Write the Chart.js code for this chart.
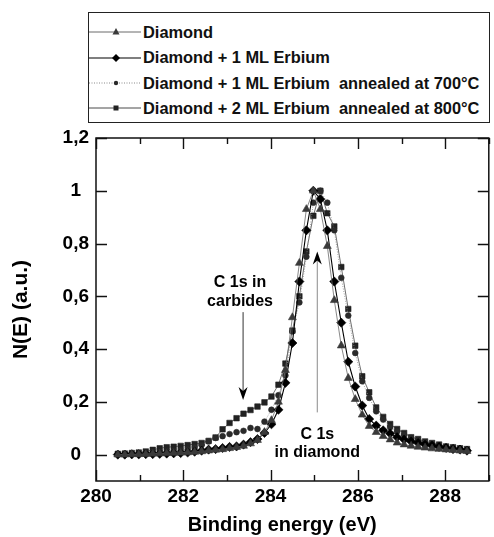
<!DOCTYPE html>
<html>
<head>
<meta charset="utf-8">
<script src="https://cdn.jsdelivr.net/npm/chart.js@4.4.1/dist/chart.umd.min.js"></script>
<style>
  html, body { margin: 0; padding: 0; background: #fff; }
  #wrap { position: relative; width: 494px; height: 537px; overflow: hidden; }
  #legend { position: absolute; left: 88px; top: 12px; width: 402px; height: 111px;
            border: 1.5px solid #222; box-sizing: border-box; background: #fff;
            font-family: "Liberation Sans", Arial, Helvetica, sans-serif; }
  .row { position: absolute; left: 0; height: 20px; display: flex; align-items: center; }
  .row svg { display: block; }
  .row span { margin-left: 2px; font-size: 16.4px; font-weight: bold; color: #111; white-space: pre; }
</style>
</head>
<body>
<div id="wrap">
  <canvas id="c" width="494" height="537"></canvas>
  <div id="legend"></div>
</div>
<script>
// ---- data ----
const energy = [280.50, 280.66, 280.82, 280.98, 281.14, 281.30, 281.46, 281.62, 281.78, 281.94,
  282.10, 282.26, 282.42, 282.58, 282.74, 282.90, 283.06, 283.22, 283.38, 283.54,
  283.70, 283.86, 284.02, 284.18, 284.34, 284.50, 284.66, 284.82, 284.98, 285.14,
  285.30, 285.46, 285.62, 285.78, 285.94, 286.10, 286.26, 286.42, 286.58, 286.74,
  286.90, 287.06, 287.22, 287.38, 287.54, 287.70, 287.86, 288.02, 288.18, 288.34, 288.50];

const diamond = [0.000, 0.000, 0.001, 0.001, 0.002, 0.003, 0.004, 0.005, 0.006, 0.007,
  0.008, 0.010, 0.012, 0.015, 0.018, 0.020, 0.024, 0.028, 0.033, 0.042,
  0.055, 0.085, 0.130, 0.200, 0.320, 0.520, 0.726, 0.930, 1.000, 0.930,
  0.790, 0.585, 0.413, 0.290, 0.210, 0.151, 0.108, 0.085, 0.070, 0.057,
  0.045, 0.038, 0.033, 0.029, 0.026, 0.023, 0.021, 0.019, 0.017, 0.015, 0.013];

const diamond1ML = [0.000, 0.000, 0.001, 0.001, 0.002, 0.002, 0.003, 0.004, 0.005, 0.006,
  0.008, 0.011, 0.015, 0.019, 0.021, 0.025, 0.029, 0.031, 0.038, 0.047,
  0.059, 0.082, 0.115, 0.170, 0.272, 0.423, 0.656, 0.850, 1.000, 0.968,
  0.850, 0.656, 0.500, 0.352, 0.258, 0.186, 0.135, 0.110, 0.092, 0.080,
  0.066, 0.057, 0.050, 0.044, 0.038, 0.034, 0.029, 0.025, 0.021, 0.019, 0.015];

const annealed700 = [0.002, 0.003, 0.004, 0.005, 0.006, 0.008, 0.010, 0.012, 0.014, 0.017,
  0.020, 0.026, 0.036, 0.050, 0.063, 0.070, 0.078, 0.085, 0.090, 0.101,
  0.097, 0.125, 0.170, 0.225, 0.300, 0.467, 0.577, 0.750, 0.955, 1.000,
  0.955, 0.850, 0.670, 0.527, 0.385, 0.278, 0.215, 0.164, 0.133, 0.104,
  0.088, 0.075, 0.063, 0.054, 0.046, 0.040, 0.035, 0.030, 0.026, 0.023, 0.020];

const annealed800 = [0.003, 0.004, 0.006, 0.008, 0.012, 0.018, 0.024, 0.028, 0.030, 0.033,
  0.036, 0.040, 0.044, 0.052, 0.065, 0.096, 0.120, 0.138, 0.155, 0.169,
  0.182, 0.198, 0.220, 0.265, 0.345, 0.470, 0.600, 0.770, 0.905, 1.000,
  0.915, 0.865, 0.711, 0.552, 0.413, 0.297, 0.236, 0.179, 0.143, 0.116,
  0.097, 0.082, 0.066, 0.059, 0.050, 0.044, 0.038, 0.031, 0.028, 0.024, 0.021];

const seriesLabels = ['Diamond', 'Diamond + 1 ML Erbium',
  'Diamond + 1 ML Erbium  annealed at 700°C', 'Diamond + 2 ML Erbium  annealed at 800°C'];

const xTickValues = [280, 282, 284, 286, 288];
const xTickLabels = ['280', '282', '284', '286', '288'];
const yTickValues = [0, 0.2, 0.4, 0.6, 0.8, 1, 1.2];
const yTickLabels = ['0', '0,2', '0,4', '0,6', '0,8', '1', '1,2'];

const xTitle = 'Binding energy (eV)';
const yTitle = 'N(E) (a.u.)';
const carbidesText = ['C 1s in', 'carbides'];
const diamondText = ['C 1s', 'in diamond'];

// ---- styles ----
const FONT = '"Liberation Sans", Arial, Helvetica, sans-serif';
Chart.defaults.font.family = FONT;
Chart.defaults.color = '#000';

const styles = [
  { line: '#6a6a6a', width: 0.8, dash: [], point: 'triangle', r: 4.6, fill: '#3a3a3a' },
  { line: '#000000', width: 1.1, dash: [], point: 'rectRot', r: 4.6, fill: '#000000' },
  { line: '#8a8a8a', width: 0.8, dash: [1, 1.5], point: 'circle', r: 2.9, fill: '#2a2a2a' },
  { line: '#4a4a4a', width: 0.8, dash: [], point: 'rect', r: 3.9, fill: '#222222' }
];
const seriesData = [diamond, diamond1ML, annealed700, annealed800];

const datasets = seriesData.map((vals, k) => ({
  label: seriesLabels[k],
  data: vals.map((v, i) => ({ x: energy[i], y: v })),
  borderColor: styles[k].line,
  borderWidth: styles[k].width,
  borderDash: styles[k].dash,
  pointStyle: styles[k].point,
  pointRadius: styles[k].r,
  pointBackgroundColor: styles[k].fill,
  pointBorderColor: styles[k].fill,
  pointBorderWidth: 0.6,
  tension: 0,
  fill: false
}));

function findIdx(arr, v) {
  for (let i = 0; i < arr.length; i++) if (Math.abs(arr[i] - v) < 1e-6) return i;
  return -1;
}

const framePlugin = {
  id: 'frame',
  afterDraw(chart) {
    const { ctx, chartArea: a, scales } = chart;
    const xs = scales.x, ys = scales.y;
    ctx.save();
    ctx.strokeStyle = '#111';
    ctx.lineWidth = 1.5;
    ctx.strokeRect(a.left, a.top, a.right - a.left, a.bottom - a.top);
    ctx.lineWidth = 1.4;
    ctx.beginPath();
    xs.ticks.forEach(t => {
      const px = Math.round(xs.getPixelForValue(t.value)) + 0.5;
      const len = findIdx(xTickValues, t.value) >= 0 ? 11 : 6;
      ctx.moveTo(px, a.bottom); ctx.lineTo(px, a.bottom - len);
      ctx.moveTo(px, a.top); ctx.lineTo(px, a.top + len);
    });
    ys.ticks.forEach(t => {
      if (findIdx(yTickValues, t.value) < 0) return;
      const py = Math.round(ys.getPixelForValue(t.value)) + 0.5;
      ctx.moveTo(a.left, py); ctx.lineTo(a.left + 11, py);
      ctx.moveTo(a.right, py); ctx.lineTo(a.right - 11, py);
    });
    ctx.stroke();

    // x axis title
    ctx.fillStyle = '#000';
    ctx.font = 'bold 20px ' + FONT;
    ctx.textAlign = 'center';
    ctx.textBaseline = 'middle';
    ctx.fillText(xTitle, a.left + (a.right - a.left) * 0.474, a.bottom + 44);

    // annotations
    ctx.font = 'bold 16px ' + FONT;
    const cx = xs.getPixelForValue(283.3);
    ctx.fillText(carbidesText[0], cx, ys.getPixelForValue(0.653));
    ctx.fillText(carbidesText[1], cx, ys.getPixelForValue(0.58));
    const dx = xs.getPixelForValue(285.07);
    ctx.fillText(diamondText[0], dx, ys.getPixelForValue(0.076));
    ctx.fillText(diamondText[1], dx, ys.getPixelForValue(0.008));

    // carbides arrow (pointing down)
    const ax = xs.getPixelForValue(283.37);
    const aTop = ys.getPixelForValue(0.54), aTip = ys.getPixelForValue(0.207);
    ctx.strokeStyle = '#333'; ctx.lineWidth = 1;
    ctx.beginPath(); ctx.moveTo(ax, aTop); ctx.lineTo(ax, aTip - 6); ctx.stroke();
    ctx.fillStyle = '#000';
    ctx.beginPath();
    ctx.moveTo(ax, aTip); ctx.lineTo(ax - 4.5, aTip - 13); ctx.lineTo(ax, aTip - 9);
    ctx.lineTo(ax + 4.5, aTip - 13); ctx.closePath(); ctx.fill();

    // diamond arrow (pointing up)
    const bx = xs.getPixelForValue(285.07);
    const bBot = ys.getPixelForValue(0.16), bTip = ys.getPixelForValue(0.77);
    ctx.strokeStyle = '#8a8a8a'; ctx.lineWidth = 1;
    ctx.beginPath(); ctx.moveTo(bx, bBot); ctx.lineTo(bx, bTip + 6); ctx.stroke();
    ctx.fillStyle = '#000';
    ctx.beginPath();
    ctx.moveTo(bx, bTip); ctx.lineTo(bx - 4.5, bTip + 13); ctx.lineTo(bx, bTip + 9);
    ctx.lineTo(bx + 4.5, bTip + 13); ctx.closePath(); ctx.fill();
    ctx.restore();
  }
};

new Chart(document.getElementById('c'), {
  type: 'line',
  data: { datasets },
  options: {
    responsive: false,
    devicePixelRatio: 1,
    animation: false,
    layout: { padding: { top: 138, right: 1, left: 0, bottom: 0 } },
    plugins: { legend: { display: false }, tooltip: { enabled: false } },
    elements: { line: { borderJoinStyle: 'round' } },
    scales: {
      x: {
        type: 'linear', min: 280, max: 289,
        grid: { display: false, drawTicks: false },
        border: { display: false },
        ticks: {
          stepSize: 1, autoSkip: false, maxRotation: 0, padding: 4,
          font: { size: 19, weight: 'bold' }, color: '#000',
          callback: v => { const i = findIdx(xTickValues, v); return i >= 0 ? xTickLabels[i] : ''; }
        },
        afterFit: s => { s.height = 56; }
      },
      y: {
        type: 'linear', min: -0.1, max: 1.2,
        grid: { display: false, drawTicks: false },
        border: { display: false },
        afterBuildTicks: s => { s.ticks = s.ticks.filter(t => t.value > -1e-6); },
        ticks: {
          stepSize: 0.2, padding: 7, crossAlign: 'center',
          font: { size: 19, weight: 'bold' }, color: '#000',
          callback: v => { const i = findIdx(yTickValues, v); return i >= 0 ? yTickLabels[i] : ''; }
        },
        title: { display: true, text: yTitle, font: { size: 21, weight: 'bold' }, color: '#000', padding: { top: 9, bottom: 0 } },
        afterFit: s => { s.width = 96; }
      }
    }
  },
  plugins: [framePlugin]
});

// ---- HTML legend ----
const legend = document.getElementById('legend');
const rowCenters = [19, 44.5, 70, 95];
function markerSvg(k, cx, cy) {
  const f = styles[k].fill;
  if (k === 0) return `<polygon points="${cx},${cy - 4} ${cx - 3.5},${cy + 2.5} ${cx + 3.5},${cy + 2.5}" fill="${f}"/>`;
  if (k === 1) return `<polygon points="${cx},${cy - 4} ${cx - 4},${cy} ${cx},${cy + 4} ${cx + 4},${cy}" fill="${f}"/>`;
  if (k === 2) return `<circle cx="${cx}" cy="${cy}" r="2.2" fill="${f}"/>`;
  return `<rect x="${cx - 2.5}" y="${cy - 2.5}" width="5" height="5" fill="${f}"/>`;
}
seriesLabels.forEach((lab, k) => {
  const row = document.createElement('div');
  row.className = 'row';
  row.style.top = (rowCenters[k] - 10) + 'px';
  const dash = styles[k].dash.length ? `stroke-dasharray="1 1.5"` : '';
  row.innerHTML = `<svg width="52" height="20"><line x1="0" y1="10" x2="52" y2="10" stroke="${styles[k].line}" stroke-width="${k === 1 ? 1.2 : 1}" ${dash}/>${markerSvg(k, 27, 10)}</svg><span>${lab}</span>`;
  legend.appendChild(row);
});
</script>
</body>
</html>
